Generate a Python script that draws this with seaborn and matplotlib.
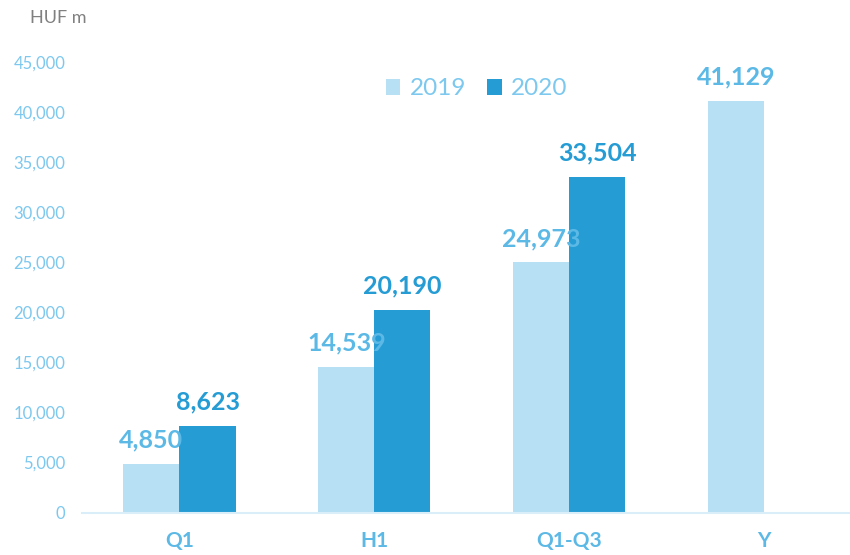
import seaborn as sns
import matplotlib.pyplot as plt
import pandas as pd

# Data (HUF m)
periods = ["Q1", "H1", "Q1-Q3", "Y"]
values_2019 = [4850, 14539, 24973, 41129]
values_2020 = [8623, 20190, 33504, None]

df = pd.DataFrame({
    "period": periods * 2,
    "year": ["2019"] * 4 + ["2020"] * 4,
    "value": values_2019 + values_2020,
})

light = "#b7e0f4"
dark = "#259cd4"
label_light = "#5cb9e6"
tick_col = "#7cc8ef"

sns.set_style("white")
plt.rcParams["font.family"] = ["Lato", "DejaVu Sans"]

fig = plt.figure(figsize=(8.5, 5.55), dpi=100)
ax = fig.add_axes([0.0965, 0.0765, 0.9035, 0.812])

sns.barplot(data=df, x="period", y="value", hue="year",
            palette={"2019": light, "2020": dark}, width=0.575,
            saturation=1, linewidth=0, ax=ax, zorder=2)

# Value labels
label_cols = [label_light, dark]
for cont, col in zip(ax.containers, label_cols):
    ax.bar_label(cont, fmt="{:,.0f}", padding=9, color=col,
                 fontsize=18, fontweight="bold", zorder=3)

ax.set_ylim(0, 45000)
ax.set_xlim(-0.5, 3.44)
ax.set_yticks(range(0, 45001, 5000))
ax.set_yticklabels([f"{v:,}" for v in range(0, 45001, 5000)])
ax.tick_params(axis="y", length=0, pad=12, labelsize=12, labelcolor=tick_col)
ax.tick_params(axis="x", length=0, pad=13, labelsize=15, labelcolor=label_light)
for lbl in ax.get_xticklabels():
    lbl.set_fontweight("bold")
ax.set_xlabel("")
ax.set_ylabel("")

for s in ["top", "right", "left"]:
    ax.spines[s].set_visible(False)
ax.spines["bottom"].set_color("#d9eef9")
ax.spines["bottom"].set_linewidth(1.5)

leg = ax.legend(loc="center", bbox_to_anchor=(0.514, 0.94), ncol=2, frameon=False,
                fontsize=17.5, handlelength=0.6, handleheight=0.6,
                columnspacing=0.85, handletextpad=0.4)
for t in leg.get_texts():
    t.set_color(tick_col)

fig.text(0.035, 0.967, "HUF m", fontsize=13, color="#808080", va="center")

fig.savefig("out.png", dpi=100)
